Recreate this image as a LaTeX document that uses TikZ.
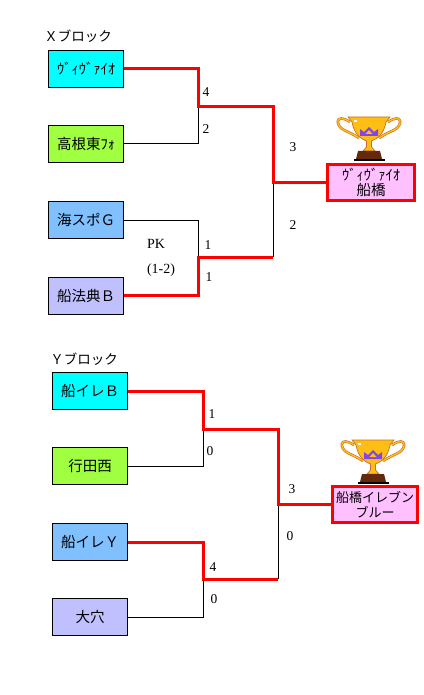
\documentclass[tikz,border=0pt]{standalone}
\usepackage{fontspec}
\setmainfont{Liberation Serif}
\newfontfamily\jp{Noto Sans CJK JP}
\definecolor{cyanbox}{RGB}{0,255,255}
\definecolor{greenbox}{RGB}{160,255,64}
\definecolor{bluebox}{RGB}{128,192,255}
\definecolor{violetbox}{RGB}{192,192,255}
\definecolor{pinkbox}{RGB}{255,192,255}
\definecolor{tgold}{RGB}{255,190,20}
\definecolor{tedge}{RGB}{200,110,50}
\definecolor{tbase}{RGB}{100,40,10}
\definecolor{tcrown}{RGB}{130,70,230}
\tikzset{
  x=1pt,y=-1pt,
  team/.style={draw=black,line width=1pt,minimum width=75pt,minimum height=37pt,inner sep=0pt,font=\jp\fontsize{14.5}{16}\selectfont},
  champ/.style={draw=red,line width=3pt,fill=pinkbox,inner sep=0pt,align=center,font=\jp\fontsize{14.5}{15.5}\selectfont},
  score/.style={inner sep=0pt,font=\fontsize{13.5}{15}\selectfont},
  pktext/.style={inner sep=0pt,font=\fontsize{14}{15}\selectfont},
  blocklabel/.style={inner sep=0pt,font=\jp\fontsize{13.5}{14}\selectfont},
  lose/.style={draw=black,line width=1pt},
  win/.style={draw=red,line width=3pt},
  trophy/.pic={
    \draw[tedge,line width=2.6pt] (-19,-40) .. controls (-34,-50) and (-34,-36) .. (-25,-32) .. controls (-21,-30) and (-16,-28) .. (-10,-24);
    \draw[tedge,line width=2.6pt] (19,-40) .. controls (34,-50) and (34,-36) .. (25,-32) .. controls (21,-30) and (16,-28) .. (10,-24);
    \draw[tgold,line width=1.4pt] (-19,-40) .. controls (-34,-50) and (-34,-36) .. (-25,-32) .. controls (-21,-30) and (-16,-28) .. (-10,-24);
    \draw[tgold,line width=1.4pt] (19,-40) .. controls (34,-50) and (34,-36) .. (25,-32) .. controls (21,-30) and (16,-28) .. (10,-24);
    \fill[tgold,draw=tedge,line width=.7pt] (-21,-45) -- (21,-45) -- (17,-40) .. controls (15,-28) and (8,-23) .. (2.5,-21) -- (2.5,-15) -- (6,-11) -- (-6,-11) -- (-2.5,-15) -- (-2.5,-21) .. controls (-8,-23) and (-15,-28) .. (-17,-40) -- cycle;
    \fill[white] (-15,-42) rectangle (-12,-40);
    \fill[tcrown] (-9,-26) -- (-9,-33) -- (-5,-30) -- (0,-35) -- (5,-30) -- (9,-33) -- (9,-26) -- cycle;
    \fill[tgold] (-3.5,-28) -- (0,-32) -- (3.5,-28) -- cycle;
    \fill[tbase] (-11,-11) -- (11,-11) -- (13,-3) -- (-13,-3) -- cycle;
    \fill[black] (-15.5,-3) rectangle (15.5,-1);
  }
}
\begin{document}
\begin{tikzpicture}
\useasboundingbox (0,0) rectangle (423,695);
% X block
\node[blocklabel] (xlabel) at (78,36) {Ｘブロック};
\node[team,fill=cyanbox] (x1) at (86,69) {ｳﾞｨｳﾞｧｲｵ};
\node[team,fill=greenbox] (x2) at (86,144) {高根東ﾌｫ};
\node[team,fill=bluebox] (x3) at (86,220) {海スポＧ};
\node[team,fill=violetbox] (x4) at (86,295.5) {船法典Ｂ};
\coordinate (xs1) at (198,107);
\coordinate (xs2) at (198,257);
\coordinate (xf) at (273,182.5);
\node[champ,minimum width=87pt,minimum height=36pt] (xc) at (371,182.5) {ｳﾞｨｳﾞｧｲｵ\\船橋};
\draw[lose] (x2.east) -- (x2.east -| xs1) -- (xs1);
\draw[lose] (x3.east) -- (x3.east -| xs2) -- (xs2);
\draw[lose] (xs2 -| xf) -- (xf);
\draw[win] (x1.east) -- (x1.east -| xs1) -- (xs1) -- (xs1 -| xf) -- (xf) -- (xc.west);
\draw[win] (x4.east) -- (x4.east -| xs2) -- (xs2) -- (xs2 -| xf);
\pic at (369,162) {trophy};
\node[score] (xn1) at (206,92) {4};
\node[score] (xn2) at (206,129) {2};
\node[score] (xn3) at (208,245) {1};
\node[score] (xn4) at (209,277) {1};
\node[score] (xn5) at (293,147) {3};
\node[score] (xn6) at (293,225) {2};
\node[pktext] (xpk) at (156,244) {PK};
\node[pktext] (xpks) at (161,270) {(1-2)};
% Y block
\node[blocklabel] (ylabel) at (84,359) {Ｙブロック};
\node[team,fill=cyanbox] (y1) at (90,391) {船イレＢ\hspace{8pt}};
\node[team,fill=greenbox] (y2) at (90,466) {行田西};
\node[team,fill=bluebox] (y3) at (90,542) {船イレＹ\hspace{6pt}};
\node[team,fill=violetbox] (y4) at (90,617) {大穴};
\coordinate (ys1) at (203,429);
\coordinate (ys2) at (203,579);
\coordinate (yf) at (278,504.5);
\node[champ,minimum width=85pt,minimum height=36pt,font=\jp\fontsize{13}{15.5}\selectfont] (yc) at (375,504.5) {船橋イレブン\\ブルー};
\draw[lose] (y2.east) -- (y2.east -| ys1) -- (ys1);
\draw[lose] (y4.east) -- (y4.east -| ys2) -- (ys2);
\draw[lose] (ys2 -| yf) -- (yf);
\draw[win] (y1.east) -- (y1.east -| ys1) -- (ys1) -- (ys1 -| yf) -- (yf) -- (yc.west);
\draw[win] (y3.east) -- (y3.east -| ys2) -- (ys2) -- (ys2 -| yf);
\pic at (373,485) {trophy};
\node[score] (yn1) at (212,414) {1};
\node[score] (yn2) at (210,451) {0};
\node[score] (yn3) at (213,567) {4};
\node[score] (yn4) at (214,599) {0};
\node[score] (yn5) at (292,489) {3};
\node[score] (yn6) at (290,536) {0};
\end{tikzpicture}
\end{document}
